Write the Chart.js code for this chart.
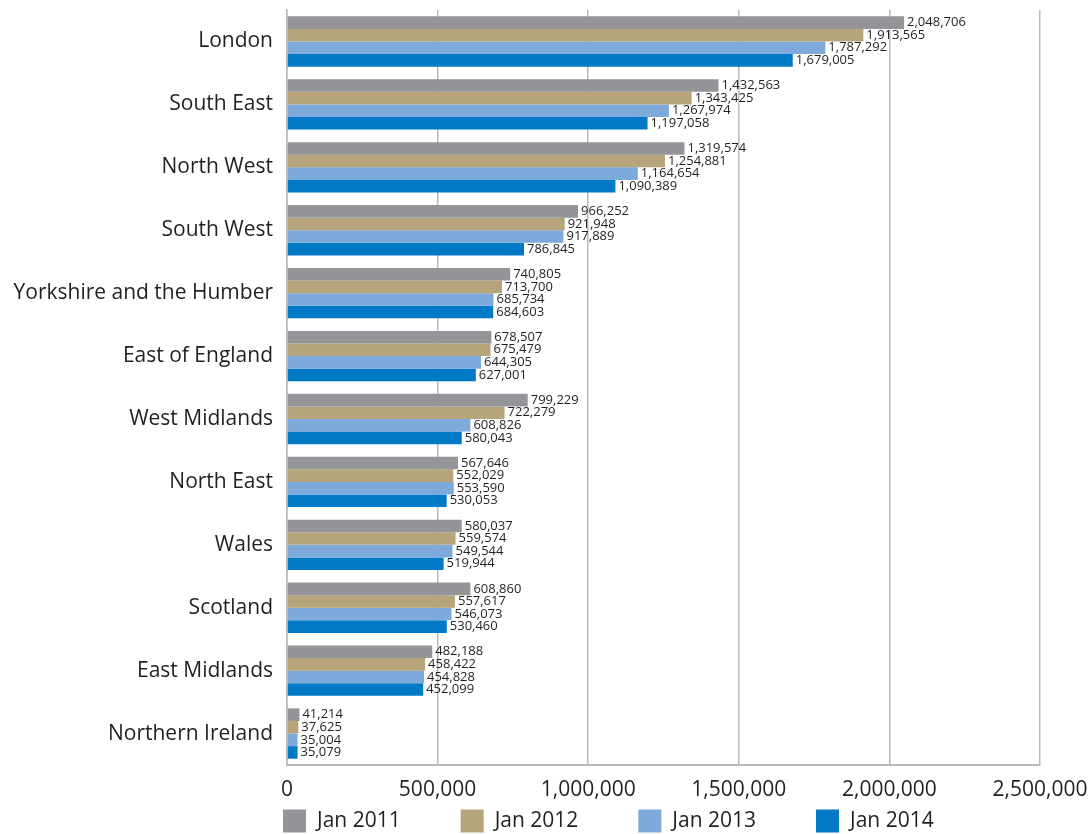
<!DOCTYPE html>
<html>
<head>
<meta charset="utf-8">
<script src="https://cdn.jsdelivr.net/npm/chart.js@4/dist/chart.umd.min.js"></script>
<style>
  html, body { margin: 0; padding: 0; background: #fff; }
  #wrap { width: 1089px; height: 834px; }
</style>
</head>
<body>
<div id="wrap"><canvas id="regionChart"></canvas></div>
<script>
// regions, top to bottom
const regions = ["London", "South East", "North West", "South West", "Yorkshire and the Humber",
  "East of England", "West Midlands", "North East", "Wales", "Scotland", "East Midlands", "Northern Ireland"];

const jan2011 = [2048706, 1432563, 1319574, 966252, 740805, 678507, 799229, 567646, 580037, 608860, 482188, 41214];
const jan2012 = [1913565, 1343425, 1254881, 921948, 713700, 675479, 722279, 552029, 559574, 557617, 458422, 37625];
const jan2013 = [1787292, 1267974, 1164654, 917889, 685734, 644305, 608826, 553590, 549544, 546073, 454828, 35004];
const jan2014 = [1679005, 1197058, 1090389, 786845, 684603, 627001, 580043, 530053, 519944, 530460, 452099, 35079];

const xTicks = [0, 500000, 1000000, 1500000, 2000000, 2500000];

const fontFamily = "'Open Sans', 'Noto Sans', sans-serif";
const textColour = "#231f20";
const gridColour = "#b9b9bb";

// writes the value just past the end of each bar
const valueLabels = {
  id: "valueLabels",
  afterDatasetsDraw(chart) {
    const ctx = chart.ctx;
    ctx.save();
    ctx.font = "13px " + fontFamily;
    ctx.fillStyle = textColour;
    ctx.textAlign = "left";
    ctx.textBaseline = "middle";
    chart.data.datasets.forEach((ds, i) => {
      chart.getDatasetMeta(i).data.forEach((bar, j) => {
        ctx.fillText(ds.data[j].toLocaleString("en-GB"), bar.x + 3, bar.y);
      });
    });
    ctx.restore();
  }
};

// legend row under the axis, boxes then labels
const bottomLegend = {
  id: "bottomLegend",
  afterDraw(chart) {
    const ctx = chart.ctx;
    const box = 23, gap = 60;
    const y = chart.chartArea.bottom + 56;
    let x = chart.chartArea.left - 4;
    ctx.save();
    ctx.font = "21px " + fontFamily;
    ctx.textAlign = "left";
    ctx.textBaseline = "middle";
    chart.data.datasets.forEach(ds => {
      ctx.fillStyle = ds.backgroundColor;
      ctx.fillRect(x, y - box / 2, box, box);
      ctx.fillStyle = textColour;
      ctx.fillText(ds.label, x + box + 11, y);
      x += box + 11 + ctx.measureText(ds.label).width + gap;
    });
    ctx.restore();
  }
};

const ctx = document.getElementById("regionChart").getContext("2d");
new Chart(ctx, {
  type: "bar",
  data: {
    labels: regions,
    datasets: [
      { label: "Jan 2011", data: jan2011, backgroundColor: "#939598" },
      { label: "Jan 2012", data: jan2012, backgroundColor: "#b8a47a" },
      { label: "Jan 2013", data: jan2013, backgroundColor: "#7eaadb" },
      { label: "Jan 2014", data: jan2014, backgroundColor: "#0079c6" }
    ]
  },
  options: {
    indexAxis: "y",
    responsive: true,
    maintainAspectRatio: false,
    animation: false,
    layout: { padding: { top: 10, right: 49, bottom: 35, left: 0 } },
    datasets: {
      bar: { categoryPercentage: 0.8, barPercentage: 1.0 }
    },
    scales: {
      x: {
        min: 0,
        max: 2500000,
        afterBuildTicks(scale) {
          scale.ticks = xTicks.map(v => ({ value: v }));
        },
        afterFit(scale) {
          scale.height = 34;
          scale.paddingLeft = 0;
          scale.paddingRight = 0;
        },
        grid: { color: gridColour, lineWidth: 1.5, drawTicks: false },
        border: { color: gridColour, width: 2 },
        ticks: {
          padding: 12,
          color: textColour,
          font: { family: fontFamily, size: 21 },
          callback: v => v.toLocaleString("en-GB")
        }
      },
      y: {
        grid: { display: false, drawTicks: false },
        border: { color: gridColour, width: 1.5 },
        afterFit(scale) {
          scale.width = 287;
          scale.paddingTop = 0;
          scale.paddingBottom = 0;
        },
        ticks: {
          padding: 14,
          color: textColour,
          font: { family: fontFamily, size: 21 }
        }
      }
    },
    plugins: {
      legend: { display: false },
      tooltip: { enabled: false }
    }
  },
  plugins: [valueLabels, bottomLegend]
});
</script>
</body>
</html>
